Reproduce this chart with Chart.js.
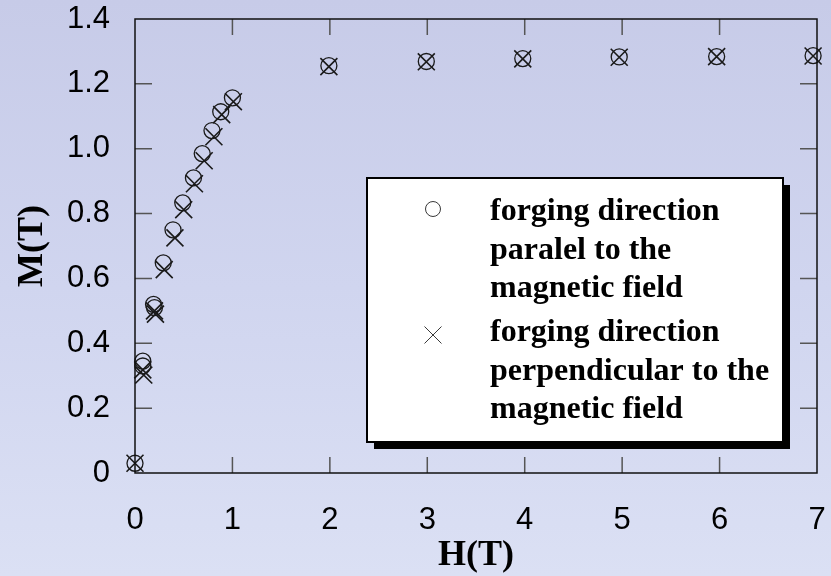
<!DOCTYPE html>
<html>
<head>
<meta charset="utf-8">
<script src="https://cdn.jsdelivr.net/npm/chart.js@4"></script>
<style>
  html, body { margin: 0; padding: 0; }
  body {
    width: 831px; height: 576px; overflow: hidden;
    background: linear-gradient(to bottom, #c7cbe8 0%, #d0d5ef 50%, #dbe0f4 100%);
  }
  #wrap { position: relative; width: 831px; height: 576px; }
</style>
</head>
<body>
<div id="wrap"><canvas id="myChart" width="831" height="576"></canvas></div>
<script>
// H(T) and M(T)
var hPar  = [0, 0.08, 0.08, 0.19, 0.2, 0.29, 0.39, 0.49, 0.6, 0.69, 0.79, 0.88, 1.0, 1.99, 2.99, 3.98, 4.97, 5.97, 6.96];
var mPar  = [0.03, 0.345, 0.33, 0.52, 0.51, 0.648, 0.75, 0.833, 0.91, 0.985, 1.056, 1.114, 1.157, 1.256, 1.269, 1.278, 1.283, 1.284, 1.287];
var hPerp = [0, 0.08, 0.09, 0.2, 0.21, 0.3, 0.41, 0.5, 0.61, 0.71, 0.81, 0.89, 1.01, 1.99, 2.99, 3.98, 4.97, 5.97, 6.96];
var mPerp = [0.03, 0.318, 0.302, 0.5, 0.49, 0.627, 0.725, 0.812, 0.892, 0.963, 1.037, 1.105, 1.145, 1.253, 1.268, 1.277, 1.282, 1.284, 1.286];
var xTicks = [0, 1, 2, 3, 4, 5, 6, 7];
var yTicks = [0, 0.2, 0.4, 0.6, 0.8, 1.0, 1.2, 1.4];
var legendLines = [
  ['forging direction', 'paralel to the', 'magnetic field'],
  ['forging direction', 'perpendicular to the', 'magnetic field']
];

function pts(xs, ys) {
  var out = [];
  for (var i = 0; i < xs.length; i++) out.push({x: xs[i], y: ys[i]});
  return out;
}

// box round the plot and the inward tick marks on all four sides
var frame = {
  id: 'frame',
  afterDatasetsDraw: function(chart) {
    var c = chart.ctx, a = chart.chartArea;
    var xs = chart.scales.x, ys = chart.scales.y;
    c.save();
    c.strokeStyle = '#555';
    c.lineWidth = 1.5;
    c.beginPath();
    xTicks.forEach(function(v) {
      var px = xs.getPixelForValue(v);
      if (v === 0 || v === 7) return;
      c.moveTo(px, a.bottom); c.lineTo(px, a.bottom - 16);
      c.moveTo(px, a.top); c.lineTo(px, a.top + 16);
    });
    yTicks.forEach(function(v) {
      var py = ys.getPixelForValue(v);
      if (v === 0 || v === 1.4) return;
      c.moveTo(a.left, py); c.lineTo(a.left + 17, py);
      c.moveTo(a.right, py); c.lineTo(a.right - 17, py);
    });
    c.stroke();
    c.strokeStyle = '#111';
    c.lineWidth = 1.5;
    c.strokeRect(a.left, a.top, a.right - a.left, a.bottom - a.top);
    c.restore();
  }
};

var boxLegend = {
  id: 'boxLegend',
  afterDraw: function(chart) {
    var c = chart.ctx, a = chart.chartArea;
    var bx = a.left + 232, by = a.top + 159, bw = 416, bh = 264;
    c.save();
    c.fillStyle = '#000';
    c.fillRect(bx + 7, by + 7, bw, bh);
    c.fillStyle = '#fff';
    c.fillRect(bx, by, bw, bh);
    c.strokeStyle = '#000';
    c.lineWidth = 2;
    c.strokeRect(bx, by, bw, bh);

    var sets = chart.data.datasets;
    var tops = [by + 34, by + 155];
    c.strokeStyle = '#222';
    c.fillStyle = 'rgba(0,0,0,0)';
    c.lineWidth = 0.9;
    Chart.helpers.drawPoint(c, {pointStyle: sets[0].pointStyle, radius: 7.5, borderWidth: 0.9}, bx + 66, tops[0] - 3);
    Chart.helpers.drawPoint(c, {pointStyle: sets[1].pointStyle, radius: 12, borderWidth: 0.9}, bx + 66, tops[1] + 2);

    c.fillStyle = '#000';
    c.font = 'bold 32px "Liberation Serif"';
    c.textBaseline = 'middle';
    c.textAlign = 'left';
    legendLines.forEach(function(lines, k) {
      lines.forEach(function(t, j) {
        c.fillText(t, bx + 123, tops[k] + j * 38.5);
      });
    });
    c.restore();
  }
};

var ctx = document.getElementById('myChart');
var myChart = new Chart(ctx, {
  type: 'scatter',
  data: {
    datasets: [{
      label: 'forging direction paralel to the magnetic field',
      data: pts(hPar, mPar),
      pointStyle: 'circle',
      pointRadius: 8,
      pointBorderWidth: 1.3,
      borderColor: '#1a1a1a',
      backgroundColor: 'rgba(0,0,0,0)',
      clip: false
    }, {
      label: 'forging direction perpendicular to the magnetic field',
      data: pts(hPerp, mPerp),
      pointStyle: 'crossRot',
      pointRadius: 12,
      pointBorderWidth: 1.6,
      borderColor: '#1a1a1a',
      backgroundColor: 'rgba(0,0,0,0)',
      clip: false
    }]
  },
  options: {
    responsive: false,
    animation: false,
    layout: { padding: { top: 19, right: 14, left: 0, bottom: 0 } },
    plugins: { legend: { display: false }, tooltip: { enabled: false } },
    scales: {
      x: {
        type: 'linear', min: 0, max: 7,
        afterBuildTicks: function(s) { s.ticks = xTicks.map(function(v) { return {value: v}; }); },
        afterFit: function(s) { s.height = 103; s.paddingLeft = 0; s.paddingRight = 0; },
        grid: { display: false, drawTicks: false },
        border: { display: false },
        ticks: {
          color: '#000', padding: 29,
          font: { family: '"Liberation Sans", Arial', size: 31 },
          callback: function(v) { return String(v); }
        },
        title: {
          display: true, text: 'H(T)', color: '#000',
          font: { family: '"Liberation Serif"', size: 36, weight: 'bold', lineHeight: 1.1 },
          padding: { top: 0, bottom: 0 }
        }
      },
      y: {
        type: 'linear', min: 0, max: 1.4,
        afterBuildTicks: function(s) { s.ticks = yTicks.map(function(v) { return {value: v}; }); },
        afterFit: function(s) { s.width = 135; s.paddingTop = 0; s.paddingBottom = 0; },
        grid: { display: false, drawTicks: false },
        border: { display: false },
        ticks: {
          color: '#000', padding: 25,
          font: { family: '"Liberation Sans", Arial', size: 31 },
          callback: function(v) { return v === 0 ? '0' : v.toFixed(1); }
        },
        title: {
          display: true, text: 'M(T)', color: '#000',
          font: { family: '"Liberation Serif"', size: 36, weight: 'bold' },
          padding: { top: 11, bottom: 0 }
        }
      }
    }
  },
  plugins: [frame, boxLegend]
});
</script>
</body>
</html>
